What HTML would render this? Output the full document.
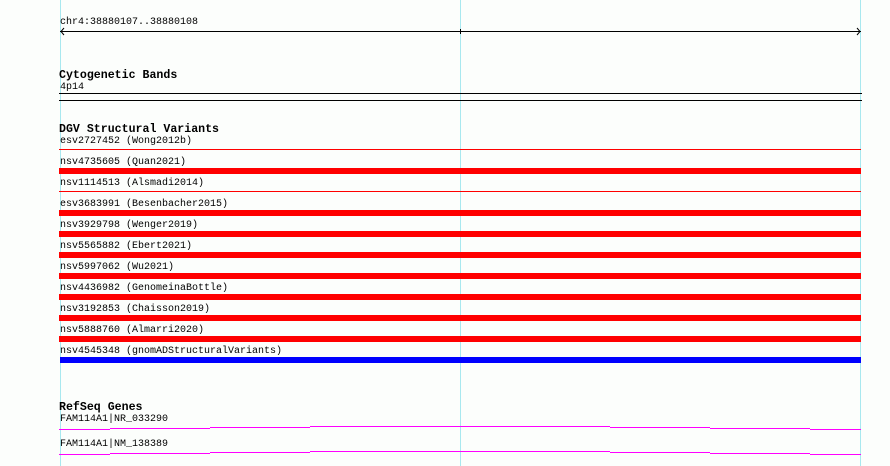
<!DOCTYPE html>
<html><head><meta charset="utf-8"><style>
html,body{margin:0;padding:0;background:#fcfefc;}
body{width:890px;height:466px;position:relative;overflow:hidden;font-family:"Liberation Mono","DejaVu Sans Mono",monospace;}
.t{position:absolute;left:60px;font-size:10px;line-height:12px;color:#000;white-space:nowrap;}
.h{position:absolute;left:59px;font-size:11.6px;line-height:13px;font-weight:bold;color:#000;white-space:nowrap;}
svg{position:absolute;left:0;top:0;}
</style></head><body>
<svg width="890" height="466" shape-rendering="crispEdges">
<rect x="60" y="0" width="1" height="466" fill="#a8e8ef"/>
<rect x="460" y="0" width="1" height="466" fill="#a8e8ef"/>
<rect x="860" y="0" width="1" height="466" fill="#a8e8ef"/>
<rect x="60" y="31" width="801" height="1" fill="#000"/>
<polyline points="64,28 61,31.5 64,35" fill="none" stroke="#000" shape-rendering="auto"/>
<polyline points="857,28 860,31.5 857,35" fill="none" stroke="#000" shape-rendering="auto"/>
<rect x="460" y="29" width="1" height="5" fill="#000"/>
<rect x="59" y="93" width="803" height="1" fill="#000"/>
<rect x="59" y="100" width="803" height="1" fill="#000"/>
<rect x="59" y="149" width="802" height="1" fill="#f00"/>
<rect x="59" y="168" width="802" height="6" fill="#f00"/>
<rect x="59" y="191" width="802" height="1" fill="#f00"/>
<rect x="59" y="210" width="802" height="6" fill="#f00"/>
<rect x="59" y="231" width="802" height="6" fill="#f00"/>
<rect x="59" y="252" width="802" height="6" fill="#f00"/>
<rect x="59" y="273" width="802" height="6" fill="#f00"/>
<rect x="59" y="294" width="802" height="6" fill="#f00"/>
<rect x="59" y="315" width="802" height="6" fill="#f00"/>
<rect x="59" y="336" width="802" height="6" fill="#f00"/>
<rect x="60" y="357" width="801" height="6" fill="#00f"/>
<g fill="#f0f">
<rect x="59" y="429" width="51" height="1"/><rect x="110" y="428" width="100" height="1"/><rect x="210" y="427" width="100" height="1"/><rect x="310" y="426" width="300" height="1"/><rect x="610" y="427" width="100" height="1"/><rect x="710" y="428" width="100" height="1"/><rect x="810" y="429" width="51" height="1"/>
<rect x="59" y="454" width="51" height="1"/><rect x="110" y="453" width="100" height="1"/><rect x="210" y="452" width="100" height="1"/><rect x="310" y="451" width="300" height="1"/><rect x="610" y="452" width="100" height="1"/><rect x="710" y="453" width="100" height="1"/><rect x="810" y="454" width="51" height="1"/>
</g>
</svg>
<div class="t" style="top:17px">chr4:38880107..38880108</div>
<div class="h" style="top:69px">Cytogenetic Bands</div>
<div class="t" style="top:82px">4p14</div>
<div class="h" style="top:123px">DGV Structural Variants</div>
<div class="t" style="top:136px">esv2727452 (Wong2012b)</div>
<div class="t" style="top:157px">nsv4735605 (Quan2021)</div>
<div class="t" style="top:178px">nsv1114513 (Alsmadi2014)</div>
<div class="t" style="top:199px">esv3683991 (Besenbacher2015)</div>
<div class="t" style="top:220px">nsv3929798 (Wenger2019)</div>
<div class="t" style="top:241px">nsv5565882 (Ebert2021)</div>
<div class="t" style="top:262px">nsv5997062 (Wu2021)</div>
<div class="t" style="top:283px">nsv4436982 (GenomeinaBottle)</div>
<div class="t" style="top:304px">nsv3192853 (Chaisson2019)</div>
<div class="t" style="top:325px">nsv5888760 (Almarri2020)</div>
<div class="t" style="top:346px">nsv4545348 (gnomADStructuralVariants)</div>
<div class="h" style="top:401px">RefSeq Genes</div>
<div class="t" style="top:414px">FAM114A1|NR_033290</div>
<div class="t" style="top:439px">FAM114A1|NM_138389</div>
</body></html>
